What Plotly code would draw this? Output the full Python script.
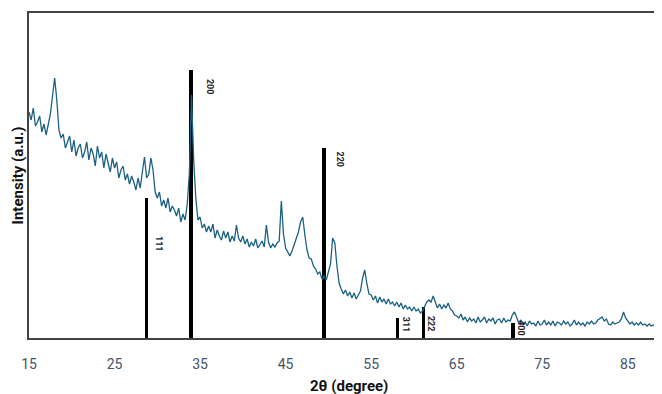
import plotly.graph_objects as go

# 2-theta sampling grid (degrees), 0.25 deg step from 15 to 89
two_theta_start = 15.0
two_theta_step = 0.25

intensity = [
    226, 218, 230, 212,   # 15
    216, 222, 206, 214,   # 16
    203, 212, 224, 242,   # 17
    260, 238, 208, 200,   # 18
    204, 190, 196, 202,   # 19
    186, 198, 182, 190,   # 20
    194, 180, 186, 196,   # 21
    178, 190, 184, 172,   # 22
    192, 180, 186, 170,   # 23
    184, 176, 166, 180,   # 24
    170, 176, 160, 168,   # 25
    172, 158, 164, 154,   # 26
    162, 156, 148, 160,   # 27
    150, 166, 181, 160,   # 28
    164, 180, 168, 146,   # 29
    140, 146, 132, 138,   # 30
    130, 140, 126, 132,   # 31
    128, 122, 130, 116,   # 32
    124, 118, 134, 165,   # 33
    243, 178, 140, 118,   # 34
    121, 110, 114, 106,   # 35
    112, 106, 114, 100,   # 36
    108, 102, 98, 107,    # 37
    100, 106, 96, 102,    # 38
    97, 113, 100, 96,     # 39
    102, 94, 99, 91,      # 40
    96, 92, 99, 90,       # 41
    94, 97, 91, 113,      # 42
    96, 90, 94, 91,       # 43
    95, 97, 137, 104,     # 44
    90, 86, 82, 87,       # 45
    94, 100, 106, 116,    # 46
    121, 103, 88, 80,     # 47
    79, 72, 69, 64,       # 48
    66, 59, 62, 58,       # 49
    65, 74, 100, 95,      # 50
    72, 55, 49, 44,       # 51
    48, 42, 46, 40,       # 52
    45, 39, 43, 47,       # 53
    60, 68, 54, 44,       # 54
    43, 38, 42, 35,       # 55
    41, 36, 39, 34,       # 56
    39, 34, 36, 32,       # 57
    36, 31, 35, 29,       # 58
    33, 29, 31, 27,       # 59
    31, 27, 29, 25,       # 60
    27, 31, 36, 38,       # 61
    36, 42, 36, 30,       # 62
    34, 29, 33, 30,       # 63
    35, 29, 27, 23,       # 64
    22, 20, 24, 18,       # 65
    21, 16, 20, 17,       # 66
    19, 15, 21, 16,       # 67
    18, 21, 15, 19,       # 68
    17, 20, 14, 18,       # 69
    19, 15, 20, 16,       # 70
    18, 17, 23, 26,       # 71
    21, 15, 18, 13,       # 72
    16, 12, 17, 14,       # 73
    15, 12, 17, 13,       # 74
    14, 18, 13, 16,       # 75
    13, 17, 12, 16,       # 76
    15, 13, 17, 14,       # 77
    16, 12, 14, 18,       # 78
    13, 16, 13, 15,       # 79
    12, 16, 14, 17,       # 80
    14, 15, 18, 20,       # 81
    21, 17, 19, 14,       # 82
    13, 16, 14, 15,       # 83
    16, 19, 26, 20,       # 84
    17, 14, 16, 13,       # 85
    15, 13, 16, 13,       # 86
    14, 12, 14, 12,       # 87
    13, 11, 14, 11,       # 88
    12,                   # 89
]
two_theta = [two_theta_start + i * two_theta_step for i in range(len(intensity))]

# Reference pattern (hkl sticks)
ref_hkl = ["111", "200", "220", "311", "222", "400"]
ref_pos = [28.72, 33.91, 49.5, 58.08, 61.12, 71.6]
ref_height = [140, 268, 190, 20, 31, 15]

# label anchor positions (data coords)
label_x = [30.2, 36.17, 51.3, 59.1, 62.0, 72.5]
label_y = [94, 251, 179, 13, 14, 10]

x_ticks = [15, 25, 35, 45, 55, 65, 75, 85]

fig = go.Figure()
fig.add_trace(go.Scatter(
    x=two_theta, y=intensity, mode="lines",
    line=dict(color="#1a6184", width=1.3),
    showlegend=False, hoverinfo="skip",
))
fig.add_trace(go.Bar(
    x=ref_pos, y=ref_height, width=0.42,
    marker=dict(color="black", line=dict(width=0)),
    showlegend=False, hoverinfo="skip",
))

for t, lx, ly in zip(ref_hkl, label_x, label_y):
    fig.add_annotation(
        x=lx, y=ly, xref="x", yref="y", text="<b>" + t + "</b>",
        showarrow=False, textangle=90,
        font=dict(family="Roboto", size=9, color="#222222"),
        xanchor="center", yanchor="middle",
    )

fig.add_annotation(
    x=0.5055, y=-0.148, xref="paper", yref="paper",
    text="<b>2θ (degree)</b>", showarrow=False,
    font=dict(family="Roboto", size=15, color="#111111"),
    xanchor="center", yanchor="middle",
)
fig.add_annotation(
    x=-0.0175, y=0.5, xref="paper", yref="paper",
    text="<b>Intensity (a.u.)</b>", showarrow=False, textangle=-90,
    font=dict(family="Roboto", size=15, color="#111111"),
    xanchor="center", yanchor="middle",
)

# page body adds an 8px margin; size and margins compensate for it
fig.update_layout(
    width=654, height=386,
    margin=dict(l=21, r=0, t=5, b=56),
    paper_bgcolor="white", plot_bgcolor="white",
    bargap=0,
    xaxis=dict(
        range=[15, 89], tickvals=x_ticks, ticktext=[str(v) for v in x_ticks],
        showgrid=False, zeroline=False,
        showline=True, linecolor="#444444", linewidth=1.5, mirror=True,
        ticks="", ticklabelstandoff=12,
        tickfont=dict(family="Roboto", size=14, color="#44546a"),
    ),
    yaxis=dict(
        range=[0, 325], showticklabels=False, showgrid=False, zeroline=False,
        showline=True, linecolor="#444444", linewidth=1.5, ticks="",
    ),
)

fig.write_html("out.html")
